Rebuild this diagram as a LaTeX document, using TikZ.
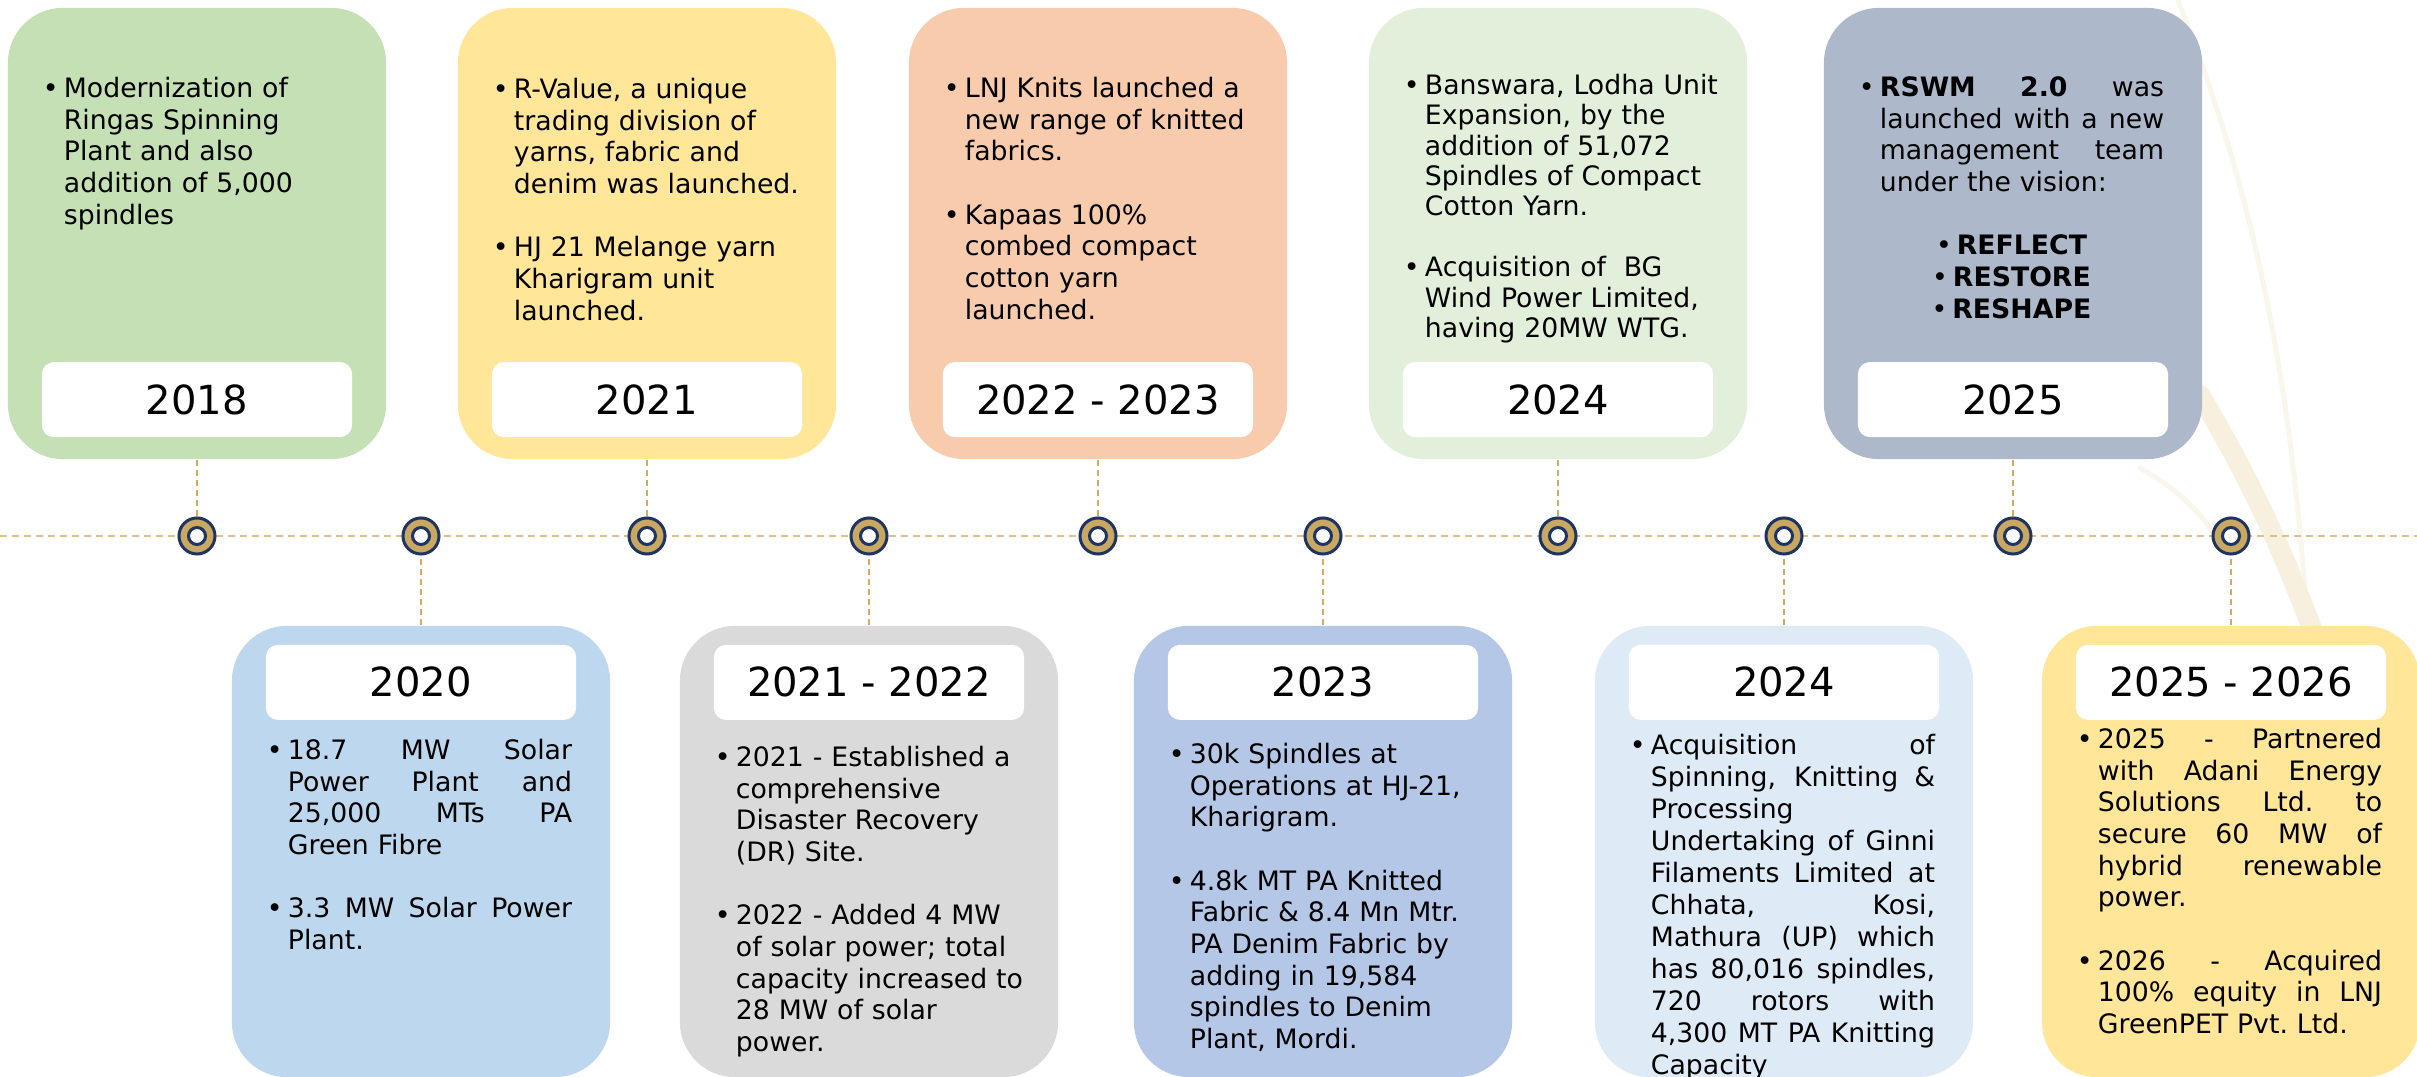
\documentclass[tikz,border=0pt]{standalone}
\usepackage{fontspec}
\setmainfont{DejaVu Sans}
\usepackage{xcolor}
\usetikzlibrary{positioning}
\definecolor{cGreen}{HTML}{C5E0B4}
\definecolor{cYellow}{HTML}{FFE699}
\definecolor{cPeach}{HTML}{F8CBAD}
\definecolor{cMint}{HTML}{E2EFDA}
\definecolor{cSlate}{HTML}{ADB9CA}
\definecolor{cSky}{HTML}{BDD7EE}
\definecolor{cGrey}{HTML}{DADADA}
\definecolor{cPeri}{HTML}{B4C7E7}
\definecolor{cIce}{HTML}{DEEBF7}
\definecolor{gold}{HTML}{C8A862}
\definecolor{navy}{HTML}{1F3461}
\definecolor{tan}{HTML}{DCC18A}
\definecolor{linkc}{HTML}{D4AA62}
\definecolor{wheat}{HTML}{F8F0DE}
\definecolor{wheatlt}{HTML}{FBF6EC}
\newlength{\bh}\setlength{\bh}{0.21cm}
\newlength{\jw}\setlength{\jw}{2.84cm}
\newcommand{\nl}{\newline}
\newcommand{\itm}{\par\noindent\hangindent=\bh\hangafter=1\makebox[\bh][l]{\textbullet}}
\newcommand{\jl}[1]{\leavevmode\hbox to \jw{\spaceskip=0.32em plus 1fil\relax #1}\nl}
\newcommand{\gap}{\par\vspace{\baselineskip}}
\newcommand{\ctr}[1]{\makebox[3.05cm][c]{\textbullet\hspace{0.05cm}\textbf{#1}}}

\begin{document}
\begin{tikzpicture}[x=0.01cm,y=-0.01cm,
  card/.style={rounded corners=0.55cm, minimum width=3.78cm, minimum height=4.51cm, inner sep=0pt},
  yearbox/.style={fill=white, rounded corners=0.12cm, minimum width=3.10cm, minimum height=0.75cm,
    inner sep=0pt, font=\fontsize{11.4pt}{13pt}\selectfont},
  body/.style={inner sep=0pt, text width=3.3cm, font=\fontsize{7.6pt}{9pt}\selectfont\frenchspacing},
  ring/.style={circle, fill=gold, draw=navy, line width=0.03cm, minimum size=0.36cm, inner sep=0pt},
  ringhole/.style={circle, fill=white, draw=navy, line width=0.03cm, minimum size=0.17cm, inner sep=0pt},
  timeline/.style={draw=tan, line width=0.023cm, dash pattern=on 0.07cm off 0.05cm},
  vlink/.style={draw=linkc, line width=0.013cm, dash pattern=on 0.06cm off 0.04cm},
  stalk/.style={draw=wheat, line cap=round}]
\fill[white] (0,0) rectangle (2417,1077);
\useasboundingbox (0,0) rectangle (2417,1077);

% wheat in the background
\draw[stalk, draw=wheatlt, line width=0.05cm] (2178,0) .. controls (2232,140) and (2290,320) .. (2308,640);
\draw[stalk, line width=0.2cm] (2200,395) .. controls (2245,470) and (2290,560) .. (2330,680);
\draw[stalk, draw=wheatlt, line width=0.05cm] (2140,468) .. controls (2170,485) and (2195,505) .. (2215,535);

% timeline
\coordinate (tlL) at (0,536);
\coordinate (tlR) at (2417,536);
\draw[timeline] (tlL) -- (tlR);

% top row
\node[card, fill=cGreen] (t1) at (197,233.5) {};
\node[yearbox, above=0.22cm of t1.south] (y1) {2018};
\node[body, below right=0.58cm and 0.35cm of t1.north west] (x1) {\itm Modernization of\nl Ringas Spinning\nl
  Plant and also\nl addition of 5,000\nl spindles\par};

\node[card, fill=cYellow] (t2) at (647,233.5) {};
\node[yearbox, above=0.22cm of t2.south] (y2) {2021};
\node[body, below right=0.59cm and 0.35cm of t2.north west] (x2) {\itm R-Value, a unique\nl trading division of\nl
  yarns, fabric and\nl denim was launched.\gap\itm HJ 21 Melange yarn\nl Kharigram unit\nl launched.\par};

\node[card, fill=cPeach] (t3) at (1098,233.5) {};
\node[yearbox, above=0.22cm of t3.south] (y3) {2022 - 2023};
\node[body, below right=0.58cm and 0.35cm of t3.north west] (x3) {\itm LNJ Knits launched a\nl new range of knitted\nl
  fabrics.\gap\itm Kapaas 100\%\nl combed compact\nl cotton yarn\nl launched.\par};

\node[card, fill=cMint] (t4) at (1558,233.5) {};
\node[yearbox, above=0.22cm of t4.south] (y4) {2024};
\node[body, font=\fontsize{7.6pt}{8.65pt}\selectfont, below right=0.56cm and 0.35cm of t4.north west] (x4) {\itm Banswara, Lodha Unit\nl
  Expansion, by the\nl addition of 51,072\nl Spindles of Compact\nl Cotton Yarn.\gap
  \itm Acquisition of\ \ BG\nl Wind Power Limited,\nl having 20MW WTG.\par};

\node[card, fill=cSlate] (t5) at (2013,233.5) {};
\node[yearbox, above=0.22cm of t5.south] (y5) {2025};
\node[body, below right=0.57cm and 0.35cm of t5.north west] (x5) {\itm\jl{\textbf{RSWM 2.0} was}\jl{launched with a new}%
  \jl{management team}under the vision:\gap
  \noindent\ctr{REFLECT}\nl\ctr{RESTORE}\nl\ctr{RESHAPE}\par};

% bottom row
\node[card, fill=cSky] (b1) at (421,851.5) {};
\node[yearbox, below=0.19cm of b1.north] (y6) {2020};
\node[body, below right=1.02cm and 0.35cm of b1.north west] (x6) {\itm\jl{18.7 MW Solar}\jl{Power Plant and}%
  \jl{25,000 MTs PA}Green Fibre\gap\itm\jl{3.3 MW Solar Power}Plant.\par};

\node[card, fill=cGrey] (b2) at (869,851.5) {};
\node[yearbox, below=0.19cm of b2.north] (y7) {2021 - 2022};
\node[body, below right=1.09cm and 0.35cm of b2.north west] (x7) {\itm 2021 - Established a\nl comprehensive\nl
  Disaster Recovery\nl (DR) Site.\gap\itm 2022 - Added 4 MW\nl of solar power; total\nl capacity increased to\nl
  28 MW of solar\nl power.\par};

\node[card, fill=cPeri] (b3) at (1323,851.5) {};
\node[yearbox, below=0.19cm of b3.north] (y8) {2023};
\node[body, below right=1.06cm and 0.35cm of b3.north west] (x8) {\itm 30k Spindles at\nl Operations at HJ-21,\nl
  Kharigram.\gap\itm 4.8k MT PA Knitted\nl Fabric \& 8.4 Mn Mtr.\nl PA Denim Fabric by\nl adding in 19,584\nl
  spindles to Denim\nl Plant, Mordi.\par};

\node[card, fill=cIce] (b4) at (1784,851.5) {};
\node[yearbox, below=0.19cm of b4.north] (y9) {2024};
\node[body, font=\fontsize{7.6pt}{9.1pt}\selectfont, below right=0.97cm and 0.35cm of b4.north west] (x9) {\itm\jl{Acquisition of}\jl{Spinning, Knitting \&}%
  Processing\nl\jl{Undertaking of Ginni}\jl{Filaments Limited at}\jl{Chhata, Kosi,}\jl{Mathura (UP) which}%
  \jl{has 80,016 spindles,}\jl{720 rotors with}\jl{4,300 MT PA Knitting}Capacity\par};

\node[card, fill=cYellow] (b5) at (2231,851.5) {};
\node[yearbox, below=0.19cm of b5.north] (y10) {2025 - 2026};
\node[body, below right=0.91cm and 0.35cm of b5.north west] (x10) {\itm\jl{2025 - Partnered}\jl{with Adani Energy}%
  \jl{Solutions Ltd. to}\jl{secure 60 MW of}\jl{hybrid renewable}power.\gap
  \itm\jl{2026 - Acquired}\jl{100\% equity in LNJ}GreenPET Pvt. Ltd.\par};

% markers
\foreach \i/\x in {1/197,2/421,3/647,4/869,5/1098,6/1323,7/1558,8/1784,9/2013,10/2231}{
  \node[ring] (m\i) at (\x,536) {};
  \node[ringhole] at (m\i) {};
}

% links
\foreach \c/\m in {t1/m1,t2/m3,t3/m5,t4/m7,t5/m9,b1/m2,b2/m4,b3/m6,b4/m8,b5/m10}
  \draw[vlink] (\c) -- (\m);
\end{tikzpicture}
\end{document}
